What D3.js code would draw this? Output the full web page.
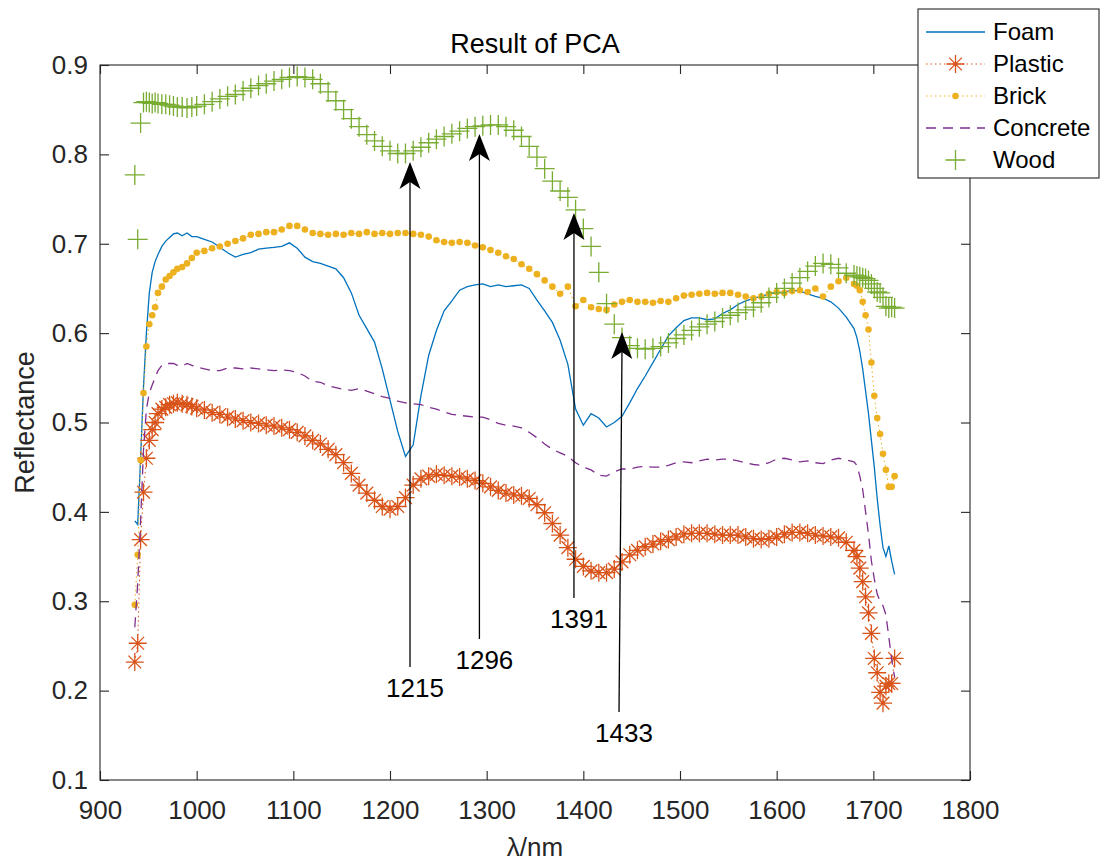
<!DOCTYPE html>
<html>
<head>
<meta charset="utf-8">
<script src="https://cdn.jsdelivr.net/npm/d3@7"></script>
<style>
  body { margin: 0; background: #fff; }
  svg { display: block; font-family: "Liberation Sans", Arial, Helvetica, sans-serif; }
</style>
</head>
<body>
<svg width="1105" height="863"></svg>
<script>
const [WIDTH, HEIGHT] = [1105, 863];
const [LEFT, RIGHT, TOP, BOTTOM] = [100, 970, 65, 780];
const AXIS_COLOR = "#262626";

// wavelength grid (nm)
const wavelengths = [
  936, 939, 942, 945, 948, 951, 954, 957, 960, 964, 968, 972, 976, 980, 985, 990, 995,
  1000, 1008, 1016, 1024, 1032, 1040, 1048, 1056, 1064, 1072, 1080, 1088, 1096, 1104, 1112, 1120,
  1128, 1136, 1144, 1152, 1160, 1168, 1176, 1184, 1192, 1200, 1208, 1216, 1224, 1232, 1240, 1248,
  1256, 1264, 1272, 1280, 1288, 1296, 1304, 1312, 1320, 1328, 1336, 1344, 1352, 1360, 1368, 1376,
  1384, 1392, 1400, 1408, 1416, 1424, 1432, 1440, 1448, 1456, 1464, 1472, 1480, 1488, 1496, 1504,
  1512, 1520, 1528, 1536, 1544, 1552, 1560, 1568, 1576, 1584, 1592, 1600, 1608, 1616, 1624, 1632,
  1640, 1648, 1656, 1664, 1672, 1680,
  1683, 1686, 1689, 1692, 1695, 1698, 1701, 1704, 1707, 1710, 1713, 1716, 1719, 1722
];

const foam = [
  0.390, 0.386, 0.460, 0.540, 0.600, 0.645, 0.668, 0.680, 0.688, 0.697, 0.703, 0.707, 0.711, 0.712, 0.709, 0.712, 0.708,
  0.708, 0.705, 0.702, 0.696, 0.690, 0.685, 0.688, 0.690, 0.694, 0.695, 0.696, 0.697, 0.701, 0.695, 0.685, 0.680,
  0.678, 0.675, 0.672, 0.662, 0.645, 0.620, 0.605, 0.590, 0.560, 0.525, 0.490, 0.462, 0.475, 0.530, 0.575, 0.603,
  0.625, 0.636, 0.648, 0.652, 0.654, 0.655, 0.652, 0.654, 0.652, 0.653, 0.654, 0.650, 0.637, 0.625, 0.612, 0.592,
  0.565, 0.515, 0.497, 0.510, 0.505, 0.495, 0.500, 0.507, 0.522, 0.538, 0.552, 0.567, 0.582, 0.597, 0.606, 0.614,
  0.617, 0.617, 0.615, 0.616, 0.622, 0.626, 0.632, 0.636, 0.639, 0.641, 0.644, 0.645, 0.646, 0.648, 0.647, 0.644,
  0.641, 0.639, 0.635, 0.628, 0.618, 0.605,
  0.595, 0.580, 0.560, 0.535, 0.510, 0.480, 0.450, 0.415, 0.385, 0.360, 0.350, 0.362, 0.345, 0.330
];

const plastic = [
  0.232, 0.253, 0.369, 0.422, 0.460, 0.480, 0.492, 0.500, 0.510, 0.515, 0.517, 0.520, 0.521, 0.522, 0.521, 0.520, 0.518,
  0.516, 0.514, 0.511, 0.509, 0.506, 0.504, 0.502, 0.500, 0.499, 0.497, 0.496, 0.494, 0.492, 0.489, 0.485, 0.480,
  0.476, 0.470, 0.464, 0.455, 0.443, 0.430, 0.421, 0.413, 0.406, 0.403, 0.406, 0.416, 0.430, 0.437, 0.440, 0.442,
  0.441, 0.440, 0.439, 0.437, 0.435, 0.432, 0.428, 0.424, 0.421, 0.419, 0.418, 0.415, 0.408, 0.399, 0.387, 0.374,
  0.360, 0.347, 0.339, 0.334, 0.332, 0.332, 0.336, 0.344, 0.352, 0.357, 0.361, 0.364, 0.367, 0.369, 0.372, 0.375,
  0.376, 0.376, 0.376, 0.375, 0.374, 0.374, 0.374, 0.372, 0.370, 0.369, 0.370, 0.372, 0.375, 0.377, 0.377, 0.376,
  0.374, 0.373, 0.372, 0.371, 0.366, 0.357,
  0.350, 0.337, 0.322, 0.305, 0.287, 0.264, 0.236, 0.220, 0.198, 0.186, 0.205, 0.208, 0.208, 0.236
];

const brick = [
  0.296, 0.352, 0.458, 0.533, 0.585, 0.610, 0.620, 0.629, 0.645, 0.652, 0.660, 0.664, 0.668, 0.672, 0.674, 0.678, 0.684,
  0.690, 0.692, 0.695, 0.697, 0.700, 0.703, 0.706, 0.710, 0.711, 0.713, 0.713, 0.716, 0.720, 0.720, 0.716, 0.712,
  0.711, 0.710, 0.711, 0.710, 0.712, 0.711, 0.713, 0.711, 0.712, 0.711, 0.712, 0.712, 0.711, 0.710, 0.708, 0.704,
  0.702, 0.701, 0.702, 0.701, 0.698, 0.696, 0.693, 0.690, 0.686, 0.683, 0.677, 0.672, 0.666, 0.659, 0.652, 0.644,
  0.652, 0.630, 0.637, 0.629, 0.627, 0.626, 0.632, 0.635, 0.637, 0.635, 0.635, 0.634, 0.636, 0.635, 0.639, 0.642,
  0.643, 0.644, 0.645, 0.644, 0.645, 0.645, 0.643, 0.641, 0.639, 0.641, 0.644, 0.646, 0.645, 0.647, 0.648, 0.646,
  0.650, 0.641, 0.652, 0.658, 0.662, 0.655,
  0.653, 0.648, 0.635, 0.620, 0.604, 0.567, 0.530, 0.505, 0.487, 0.465, 0.447, 0.428, 0.428, 0.440
];

const concrete = [
  0.271, 0.320, 0.390, 0.469, 0.515, 0.533, 0.542, 0.550, 0.558, 0.564, 0.566, 0.566, 0.566, 0.564, 0.563, 0.566, 0.564,
  0.562, 0.560, 0.558, 0.558, 0.561, 0.561, 0.560, 0.561, 0.560, 0.559, 0.558, 0.559, 0.558, 0.556, 0.552, 0.546,
  0.545, 0.541, 0.539, 0.537, 0.536, 0.538, 0.535, 0.532, 0.529, 0.527, 0.524, 0.522, 0.521, 0.520, 0.517, 0.515,
  0.512, 0.509, 0.508, 0.507, 0.506, 0.506, 0.503, 0.499, 0.497, 0.496, 0.494, 0.489, 0.483, 0.476, 0.470, 0.466,
  0.462, 0.455, 0.450, 0.447, 0.441, 0.440, 0.445, 0.448, 0.448, 0.450, 0.451, 0.450, 0.450, 0.452, 0.455, 0.456,
  0.455, 0.457, 0.459, 0.458, 0.459, 0.459, 0.457, 0.455, 0.453, 0.452, 0.455, 0.459, 0.460, 0.458, 0.456, 0.457,
  0.455, 0.454, 0.458, 0.460, 0.458, 0.456,
  0.452, 0.440, 0.425, 0.400, 0.375, 0.345, 0.325, 0.308, 0.300, 0.295, 0.285, 0.260, 0.235, 0.215
];

const wood = [
  0.777, 0.705, 0.835, 0.858, 0.859, 0.858, 0.857, 0.858, 0.857, 0.856, 0.856, 0.855, 0.854, 0.853, 0.853, 0.852, 0.853,
  0.854, 0.856, 0.859, 0.862, 0.865, 0.867, 0.871, 0.874, 0.877, 0.879, 0.882, 0.884, 0.886, 0.887, 0.886, 0.884,
  0.879, 0.870, 0.860, 0.850, 0.840, 0.831, 0.822, 0.815, 0.809, 0.804, 0.801, 0.801, 0.804, 0.808, 0.813, 0.817,
  0.820, 0.823, 0.826, 0.829, 0.831, 0.832, 0.833, 0.833, 0.831, 0.827, 0.820, 0.809, 0.797, 0.784, 0.770, 0.759,
  0.752, 0.738, 0.717, 0.697, 0.668, 0.633, 0.610, 0.595, 0.586, 0.583, 0.582, 0.583, 0.585, 0.589, 0.594, 0.598,
  0.603, 0.607, 0.610, 0.613, 0.617, 0.620, 0.623, 0.626, 0.629, 0.634, 0.640, 0.645, 0.650, 0.656, 0.662, 0.669,
  0.675, 0.678, 0.677, 0.673, 0.667, 0.665,
  0.664, 0.663, 0.662, 0.661, 0.659, 0.655, 0.650, 0.646, 0.645, 0.640, 0.630, 0.628, 0.629, 0.628
];

const seriesNames = ["Foam", "Plastic", "Brick", "Concrete", "Wood"];
const seriesValues = [foam, plastic, brick, concrete, wood];
const seriesColors = ["#0072BD", "#D95319", "#EDB120", "#7E2F8E", "#77AC30"];

const xTicks = [900, 1000, 1100, 1200, 1300, 1400, 1500, 1600, 1700, 1800];
const yTicks = [0.1, 0.2, 0.3, 0.4, 0.5, 0.6, 0.7, 0.8, 0.9];

// annotation arrows: label, head [nm, refl], tail [nm, refl]
const annoLabels = ["1215", "1296", "1391", "1433"];
const annoHeads = [[1220.7, 0.7915], [1292.5, 0.8228], [1390.3, 0.7344], [1440.0, 0.6013]];
const annoTails = [[1220.7, 0.2264], [1292.5, 0.2578], [1390.3, 0.3036], [1436.9, 0.1761]];

const x = d3.scaleLinear().domain([900, 1800]).range([LEFT, RIGHT]);
const y = d3.scaleLinear().domain([0.1, 0.9]).range([BOTTOM, TOP]);

const svg = d3.select("svg").attr("viewBox", `0 0 ${WIDTH} ${HEIGHT}`);

// marker shapes
const asteriskPath = (s) => {
  const r = s / 2, d = r * 0.7071;
  return `M${-r},0L${r},0M0,${-r}L0,${r}M${-d},${-d}L${d},${d}M${-d},${d}L${d},${-d}`;
};
const plusPath = (s) => `M${-s / 2},0L${s / 2},0M0,${-s / 2}L0,${s / 2}`;

const styles = [
  { dash: null, width: 1.3, marker: null },
  { dash: "1.5,3", width: 1, marker: "asterisk" },
  { dash: "1.5,3", width: 1, marker: "dot" },
  { dash: "10,7", width: 1.3, marker: null },
  { dash: null, width: 0, marker: "plus" }
];

const drawMarkers = (g, pts, style, color) => {
  if (style.marker === "dot") {
    g.selectAll("circle").data(pts).enter().append("circle")
      .attr("cx", (p) => p[0]).attr("cy", (p) => p[1])
      .attr("r", 3.3).attr("fill", color);
  } else if (style.marker === "asterisk" || style.marker === "plus") {
    const shape = style.marker === "asterisk" ? asteriskPath(18) : plusPath(20);
    g.selectAll("path.mk").data(pts).enter().append("path")
      .classed("mk", true)
      .attr("transform", (p) => `translate(${p[0]},${p[1]})`)
      .attr("d", shape)
      .attr("fill", "none")
      .attr("stroke", color)
      .attr("stroke-width", 1.3);
  }
};

// series
const line = d3.line().x((d) => x(d[0])).y((d) => y(d[1]));
seriesValues.forEach((vals, i) => {
  const data = wavelengths.map((w, k) => [w, vals[k]]);
  const g = svg.append("g").attr("class", `series-${seriesNames[i]}`);
  const st = styles[i];
  if (st.width > 0) {
    g.append("path")
      .attr("d", line(data))
      .attr("fill", "none")
      .attr("stroke", seriesColors[i])
      .attr("stroke-width", st.width)
      .attr("stroke-dasharray", st.dash);
  }
  drawMarkers(g, data.map((d) => [x(d[0]), y(d[1])]), st, seriesColors[i]);
});

// axes box and ticks
const axisG = svg.append("g").attr("color", AXIS_COLOR);
const fontTick = 26;

axisG.append("g")
  .attr("transform", `translate(0,${BOTTOM})`)
  .call(d3.axisBottom(x).tickValues(xTicks).tickFormat(d3.format("d")).tickSizeInner(-9).tickSizeOuter(0).tickPadding(21));
axisG.append("g")
  .attr("transform", `translate(${LEFT},0)`)
  .call(d3.axisLeft(y).tickValues(yTicks).tickFormat(d3.format(".1f")).tickSizeInner(-9).tickSizeOuter(0).tickPadding(12));
axisG.append("g")
  .attr("transform", `translate(0,${TOP})`)
  .call(d3.axisTop(x).tickValues(xTicks).tickSizeInner(-9).tickSizeOuter(0).tickFormat(""));
axisG.append("g")
  .attr("transform", `translate(${RIGHT},0)`)
  .call(d3.axisRight(y).tickValues(yTicks).tickSizeInner(-9).tickSizeOuter(0).tickFormat(""));

axisG.selectAll(".domain").remove();
axisG.selectAll(".tick line").attr("stroke-width", 1.1);
axisG.selectAll(".tick text")
  .attr("font-size", fontTick)
  .attr("font-family", "Liberation Sans, Arial, sans-serif")
  .attr("fill", AXIS_COLOR);

axisG.append("rect")
  .attr("x", LEFT).attr("y", TOP)
  .attr("width", RIGHT - LEFT).attr("height", BOTTOM - TOP)
  .attr("fill", "none")
  .attr("stroke", AXIS_COLOR)
  .attr("stroke-width", 1.1);

// title and axis labels
svg.append("text")
  .attr("x", 535).attr("y", 53)
  .attr("text-anchor", "middle")
  .attr("font-size", 27)
  .attr("fill", "#000")
  .text("Result of PCA");

svg.append("text")
  .attr("x", 535).attr("y", 856)
  .attr("text-anchor", "middle")
  .attr("font-size", 26)
  .attr("fill", AXIS_COLOR)
  .text("λ/nm");

svg.append("text")
  .attr("transform", `translate(34,${(TOP + BOTTOM) / 2}) rotate(-90)`)
  .attr("text-anchor", "middle")
  .attr("font-size", 27)
  .attr("fill", AXIS_COLOR)
  .text("Reflectance");

// annotation arrows
const arrowHead = "M0,0L-10.5,27L0,20L10.5,27Z";
annoLabels.forEach((label, i) => {
  const [hx, hy] = [x(annoHeads[i][0]), y(annoHeads[i][1])];
  const [tx, ty] = [x(annoTails[i][0]), y(annoTails[i][1])];
  const angle = Math.atan2(tx - hx, ty - hy) * -180 / Math.PI;
  const g = svg.append("g").attr("class", "annotation");
  g.append("line")
    .attr("x1", tx).attr("y1", ty)
    .attr("x2", hx).attr("y2", hy + 18)
    .attr("stroke", "#000")
    .attr("stroke-width", 1.3);
  g.append("path")
    .attr("transform", `translate(${hx},${hy}) rotate(${angle})`)
    .attr("d", arrowHead)
    .attr("fill", "#000");
  g.append("text")
    .attr("x", tx + 5).attr("y", ty + 30)
    .attr("text-anchor", "middle")
    .attr("font-size", 26)
    .attr("fill", "#000")
    .text(label);
});

// legend
const legend = svg.append("g").attr("transform", "translate(918,9)");
legend.append("rect")
  .attr("width", 181).attr("height", 169)
  .attr("fill", "#fff")
  .attr("stroke", AXIS_COLOR)
  .attr("stroke-width", 1.1);
const legendRowY = [23, 55, 87, 119, 151];
seriesNames.forEach((name, i) => {
  const row = legend.append("g").attr("transform", `translate(0,${legendRowY[i]})`);
  const st = styles[i];
  if (st.width > 0) {
    row.append("line")
      .attr("x1", 8).attr("x2", 67).attr("y1", 0).attr("y2", 0)
      .attr("stroke", seriesColors[i])
      .attr("stroke-width", st.width)
      .attr("stroke-dasharray", st.dash);
  }
  drawMarkers(row, [[37.5, 0]], st, seriesColors[i]);
  row.append("text")
    .attr("x", 75).attr("y", 0)
    .attr("dy", "0.35em")
    .attr("font-size", 24)
    .attr("fill", "#000")
    .text(name);
});
</script>
</body>
</html>
